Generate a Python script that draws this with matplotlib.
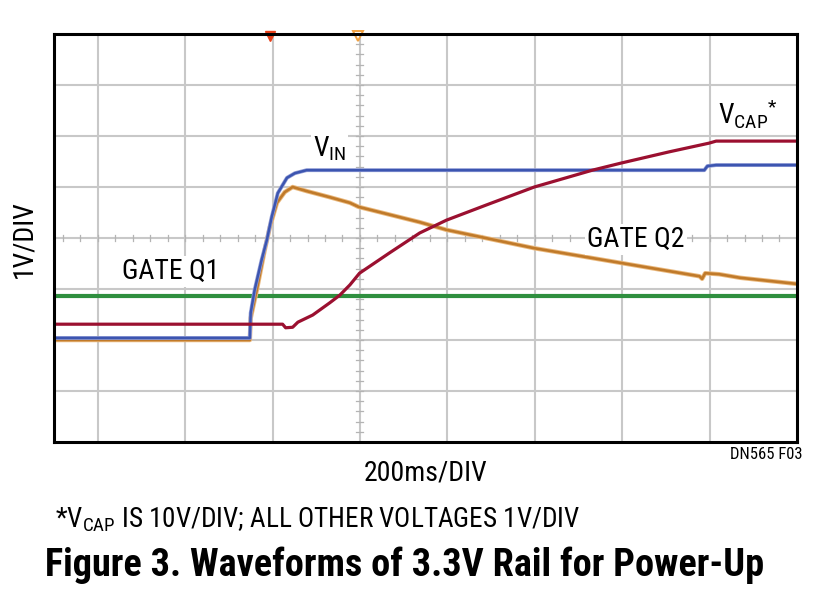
import matplotlib
matplotlib.use("Agg")
import matplotlib.pyplot as plt
import numpy as np

plt.rcParams['font.family'] = ['Roboto Condensed', 'DejaVu Sans']
plt.rcParams['mathtext.fontset'] = 'custom'
plt.rcParams['mathtext.rm'] = 'Roboto Condensed'
plt.rcParams['mathtext.it'] = 'Roboto Condensed'
plt.rcParams['mathtext.bf'] = 'Roboto Condensed:bold'

# time in ms (200ms/DIV), amplitude in divisions from bottom of screen
gate_q1_t = [0, 1700]
gate_q1_v = [2.86, 2.86]

vin_t = [0, 448, 450, 459, 475, 487, 498, 512, 533, 551, 578, 1488, 1495, 1515, 1700]
vin_v = [2.04, 2.04, 2.53, 2.98, 3.57, 3.96, 4.41, 4.88, 5.18, 5.27, 5.33, 5.33, 5.41, 5.43, 5.43]

gate_q2_t = [0, 448, 450, 464, 482, 494, 510, 528, 546, 578, 631, 677, 697, 837, 898,
             1099, 1298, 1477, 1483, 1490, 1522, 1570, 1700]
gate_q2_v = [2.0, 2.0, 2.43, 2.98, 3.76, 4.22, 4.69, 4.90, 5.00, 4.92, 4.80, 4.69, 4.61, 4.31, 4.16,
             3.80, 3.51, 3.25, 3.20, 3.31, 3.29, 3.22, 3.10]

vcap_t = [0, 523, 530, 546, 558, 592, 631, 654, 677, 699, 768, 837, 898, 990, 1099,
          1232, 1298, 1408, 1499, 1515, 1700]
vcap_v = [2.31, 2.31, 2.24, 2.25, 2.35, 2.49, 2.73, 2.88, 3.08, 3.31, 3.71, 4.10, 4.35, 4.65, 5.00,
          5.33, 5.47, 5.69, 5.86, 5.90, 5.90]

grid_x = [100, 300, 500, 700, 900, 1100, 1300, 1500]
grid_y = [1, 2, 3, 4, 5, 6, 7]
trigger_t = [494, 695]

fig = plt.figure(figsize=(8.25, 6.07), dpi=100)
ax = fig.add_axes([0.0655, 0.2718, 0.9005, 0.6722])
ax.set_xlim(0, 1700)
ax.set_ylim(0, 8)

# scope graticule
for gx in grid_x:
    ax.axvline(gx, color="#c8c8c8", lw=1.5, zorder=1)
for gy in grid_y:
    ax.axhline(gy, color="#c8c8c8", lw=1.5, zorder=1)
for ty in np.arange(0.2, 8, 0.2):
    ax.plot([692, 708], [ty, ty], color="#b4b4b4", lw=0.9, zorder=1)
for tx in np.arange(20, 1700, 40):
    ax.plot([tx, tx], [3.95, 4.05], color="#b4b4b4", lw=0.9, zorder=1)

# traces
ax.plot(gate_q1_t, gate_q1_v, color="#2f8f3f", lw=3.0, zorder=3)
ax.plot(gate_q2_t, gate_q2_v, color="#eab97e", lw=3.2, zorder=3)
ax.plot(gate_q2_t, gate_q2_v, color="#c07a2a", lw=1.9, zorder=3)
ax.plot(vin_t, vin_v, color="#95a0d8", lw=2.8, zorder=4)
ax.plot(vin_t, vin_v, color="#3c55b0", lw=1.8, zorder=4)
ax.plot(vcap_t, vcap_v, color="#9b1030", lw=2.3, zorder=4)

# trigger markers on top edge
ax.plot(trigger_t[0], 7.96, marker="v", ms=7, color="#e8401a", clip_on=False, zorder=6)
ax.plot(trigger_t[1], 7.96, marker="v", ms=7, mfc="white", mec="#f0a040", mew=1.4,
        clip_on=False, zorder=6)

# trace labels
box = dict(facecolor="white", edgecolor="none", pad=1.5)
ax.text(592, 5.59, r"V$_{\mathrm{IN}}$", fontsize=20, ha="left", va="baseline", bbox=box, zorder=5)
ax.text(1519, 6.25, r"V$_{\mathrm{CAP}}$$^{*}$", fontsize=20, ha="left", va="baseline", bbox=box, zorder=5)
ax.text(1220, 3.82, "GATE Q2", fontsize=20, ha="left", va="baseline", bbox=box, zorder=5)
ax.text(155, 3.2, "GATE Q1", fontsize=20, ha="left", va="baseline", bbox=box, zorder=5)

ax.set_xticks([])
ax.set_yticks([])
for s in ax.spines.values():
    s.set_linewidth(2.2)
    s.set_color("black")
    s.set_zorder(7)

fig.text(24 / 825, 1 - 239 / 607, "1V/DIV", rotation=90, fontsize=20, ha="center", va="center")
fig.text(426 / 825, 1 - 481 / 607, "200ms/DIV", fontsize=20, ha="center", va="baseline")
fig.text(802 / 825, 1 - 459 / 607, "DN565 F03", fontsize=12, ha="right", va="baseline")
fig.text(55 / 825, 1 - 527 / 607, r"*V$_{\mathrm{CAP}}$ IS 10V/DIV; ALL OTHER VOLTAGES 1V/DIV",
         fontsize=19.5, ha="left", va="baseline")
fig.text(45 / 825, 1 - 576 / 607, "Figure 3. Waveforms of 3.3V Rail for Power-Up",
         fontsize=27.5, fontweight="bold", ha="left", va="baseline")

fig.savefig("out.png", dpi=100)
